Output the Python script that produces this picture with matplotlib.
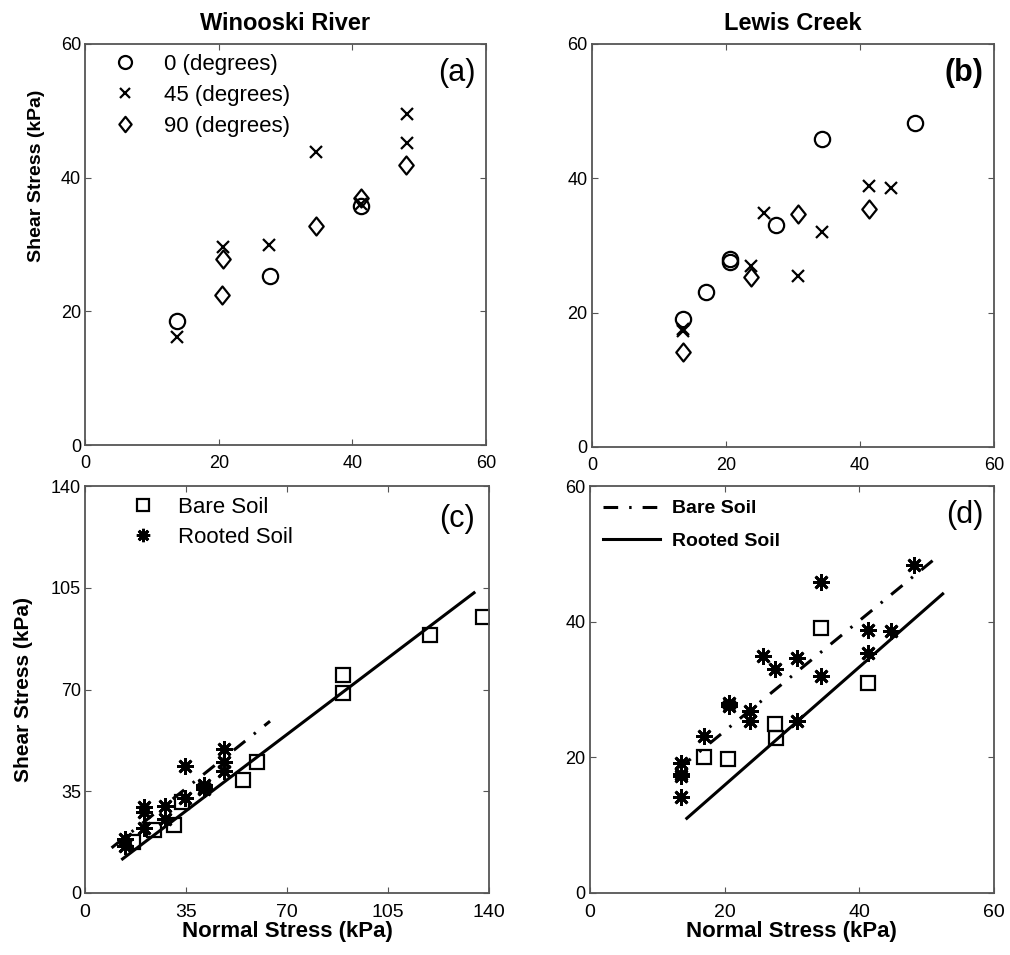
import numpy as np
import matplotlib
matplotlib.use('Agg')
import matplotlib.pyplot as plt
from matplotlib.lines import Line2D
from matplotlib.path import Path

plt.rcParams['font.family'] = ['Liberation Sans', 'DejaVu Sans']

# Winooski River, shear vs normal stress by shear direction
wino_x0 = [13.7, 27.7, 41.3]
wino_y0 = [18.6, 25.3, 35.7]
wino_x45 = [13.8, 20.6, 27.6, 34.5, 41.3, 48.2, 48.2]
wino_y45 = [16.1, 29.6, 29.9, 43.8, 36.0, 49.5, 45.2]
wino_x90 = [20.6, 20.5, 34.5, 41.3, 48.1]
wino_y90 = [27.8, 22.4, 32.7, 37.0, 41.9]

# Lewis Creek
lewis_x0 = [13.6, 17.0, 20.6, 20.6, 27.5, 34.3, 48.2]
lewis_y0 = [19.1, 23.1, 27.6, 28.0, 33.0, 45.9, 48.3]
lewis_x45 = [13.6, 13.6, 23.8, 25.7, 30.8, 34.3, 41.3, 44.7]
lewis_y45 = [17.2, 17.6, 26.9, 34.9, 25.4, 32.0, 38.8, 38.6]
lewis_x90 = [13.6, 23.8, 30.7, 41.3]
lewis_y90 = [14.1, 25.3, 34.7, 35.4]

# bare soil tests
wino_bare_x = [16.7, 23.9, 30.9, 33.5, 54.6, 59.7, 89.5, 89.5, 119.7, 137.8]
wino_bare_y = [17.5, 21.8, 23.5, 31.2, 39.0, 45.1, 68.9, 74.9, 88.6, 95.1]
lewis_bare_x = [17.0, 20.5, 27.5, 27.7, 34.3, 41.3]
lewis_bare_y = [20.0, 19.7, 24.9, 22.9, 39.0, 31.0]

# linear fits: (slope, intercept, x start, x end)
wino_fit_solid = (0.752, 1.92, 13.0, 134.8)
wino_fit_dash = (0.794, 8.2, 9.2, 64.1)
lewis_fit_solid = (0.871, -1.54, 14.4, 52.4)
lewis_fit_dash = (0.814, 7.57, 13.3, 50.9)

angle_labels = ['0 (degrees)', '45 (degrees)', '90 (degrees)']
dashdot = (0, (4.8, 3.6, 0.8, 3.6))
spine_col = '#555555'
diamond = Path([(0, 1), (0.8, 0), (0, -1), (-0.8, 0), (0, 1)],
               [Path.MOVETO, Path.LINETO, Path.LINETO, Path.LINETO, Path.CLOSEPOLY])
star = (8, 2, 0)

fig = plt.figure(figsize=(10.1, 9.55), dpi=100)
ax_a = fig.add_axes([0.0842, 0.534, 0.397, 0.420])
ax_b = fig.add_axes([0.586, 0.532, 0.398, 0.422])
ax_c = fig.add_axes([0.0842, 0.065, 0.400, 0.426])
ax_d = fig.add_axes([0.584, 0.065, 0.400, 0.426])


def style_axes(ax, lim, ticks, xsize=13, xpad=7):
    ax.set_xlim(0, lim)
    ax.set_ylim(0, lim)
    ax.set_xticks(ticks)
    ax.set_yticks(ticks)
    ax.tick_params(direction='in', top=True, right=True, length=4,
                   color=spine_col, labelsize=13, pad=3)
    ax.tick_params(axis='x', labelsize=xsize, pad=xpad)
    for s in ax.spines.values():
        s.set_color(spine_col)
        s.set_linewidth(1.3)


def angle_scatter(ax, x0, y0, x45, y45, x90, y90):
    ax.plot(x0, y0, 'o', ms=11, mfc='none', mec='black', mew=1.6, label=angle_labels[0])
    ax.plot(x45, y45, 'x', ms=9, mec='black', mew=1.6, label=angle_labels[1])
    ax.plot(x90, y90, ls='none', marker=diamond, ms=13, mfc='none', mec='black',
            mew=1.6, label=angle_labels[2])


def fit_line(ax, fit, ls):
    slope, icpt, x1, x2 = fit
    xs = np.array([x1, x2])
    ax.plot(xs, slope * xs + icpt, color='black', lw=2.2, linestyle=ls)


# (a)
angle_scatter(ax_a, wino_x0, wino_y0, wino_x45, wino_y45, wino_x90, wino_y90)
style_axes(ax_a, 60, [0, 20, 40, 60])
ax_a.set_title('Winooski River', fontsize=17, fontweight='bold', pad=10)
ax_a.set_ylabel('Shear Stress (kPa)', fontsize=14, fontweight='bold')
ax_a.yaxis.set_label_coords(-0.10, 0.67)
ax_a.legend(loc='upper left', bbox_to_anchor=(0.02, 1.0), frameon=False, fontsize=16,
            handletextpad=0.75, labelspacing=0.45, borderaxespad=0.0, borderpad=0.45,
            markerscale=0.85)
ax_a.text(0.975, 0.965, '(a)', transform=ax_a.transAxes, ha='right', va='top', fontsize=22)

# (b)
angle_scatter(ax_b, lewis_x0, lewis_y0, lewis_x45, lewis_y45, lewis_x90, lewis_y90)
style_axes(ax_b, 60, [0, 20, 40, 60])
ax_b.set_title('Lewis Creek', fontsize=17, fontweight='bold', pad=10)
ax_b.text(0.975, 0.965, '(b)', transform=ax_b.transAxes, ha='right', va='top',
          fontsize=22, fontweight='bold')

# (c)
fit_line(ax_c, wino_fit_solid, '-')
fit_line(ax_c, wino_fit_dash, dashdot)
ax_c.plot(wino_bare_x, wino_bare_y, 's', ms=10, mfc='none', mec='black', mew=1.6, label='Bare Soil')
ax_c.plot(wino_x0 + wino_x45 + wino_x90, wino_y0 + wino_y45 + wino_y90, ls='none',
          marker=star, ms=12, mec='black', mew=2, label='Rooted Soil')
style_axes(ax_c, 140, [0, 35, 70, 105, 140], xsize=14, xpad=8)
ax_c.set_ylabel('Shear Stress (kPa)', fontsize=15, fontweight='bold')
ax_c.yaxis.set_label_coords(-0.13, 0.5)
ax_c.set_xlabel('Normal Stress (kPa)', fontsize=16, fontweight='bold', labelpad=0)
ax_c.legend(loc='upper left', bbox_to_anchor=(0.06, 1.0), frameon=False, fontsize=16,
            handletextpad=0.6, labelspacing=0.4, borderaxespad=0.0, borderpad=0.5,
            markerscale=0.8)
ax_c.text(0.965, 0.955, '(c)', transform=ax_c.transAxes, ha='right', va='top', fontsize=22)

# (d)
fit_line(ax_d, lewis_fit_solid, '-')
fit_line(ax_d, lewis_fit_dash, dashdot)
ax_d.plot(lewis_bare_x, lewis_bare_y, 's', ms=10, mfc='none', mec='black', mew=1.6)
ax_d.plot(lewis_x0 + lewis_x45 + lewis_x90, lewis_y0 + lewis_y45 + lewis_y90, ls='none',
          marker=star, ms=12, mec='black', mew=2)
style_axes(ax_d, 60, [0, 20, 40, 60], xsize=14, xpad=8)
ax_d.set_xlabel('Normal Stress (kPa)', fontsize=16, fontweight='bold', labelpad=0)
handles = [Line2D([], [], color='black', lw=2.2, linestyle=dashdot),
           Line2D([], [], color='black', lw=2.2)]
ax_d.legend(handles, ['Bare Soil', 'Rooted Soil'], loc='upper left', frameon=False,
            prop={'size': 14, 'weight': 'bold'}, handlelength=2.9, handletextpad=0.6,
            labelspacing=0.75, borderaxespad=0.3, borderpad=0.4)
ax_d.text(0.975, 0.965, '(d)', transform=ax_d.transAxes, ha='right', va='top', fontsize=22)

fig.savefig('out.png', dpi=100)
